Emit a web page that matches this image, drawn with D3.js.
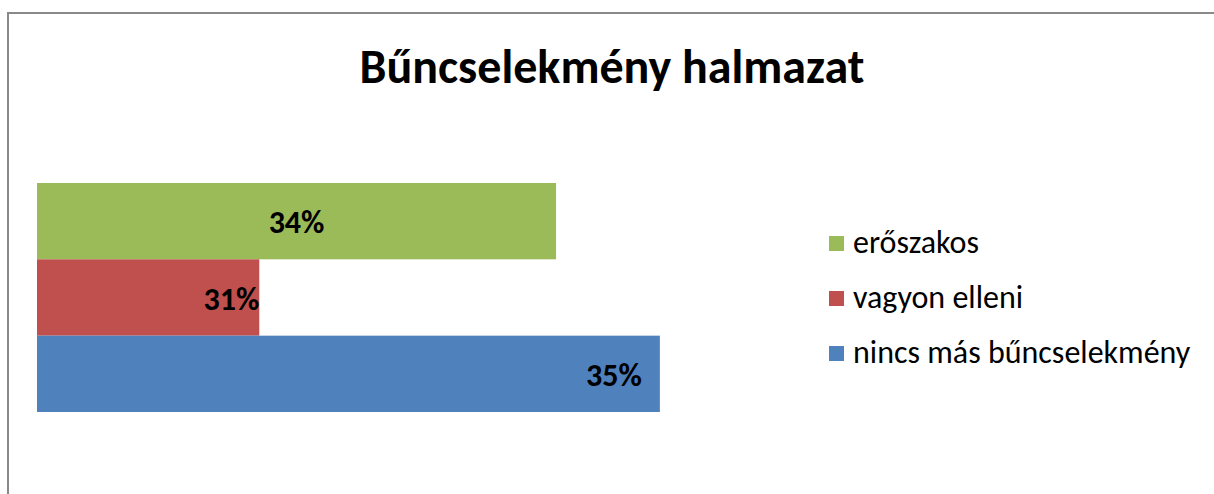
<!DOCTYPE html>
<html lang="hu">
<head>
<meta charset="UTF-8">
<title>Bűncselekmény halmazat</title>
<script src="https://d3js.org/d3.v7.min.js"></script>
<style>
  html, body { margin: 0; padding: 0; background: #fff; }
  svg { display: block; font-family: Carlito, Lato, "Open Sans", sans-serif; }
</style>
</head>
<body>
<svg width="1214" height="494"></svg>
<script>
// adatok (felülről lefelé)
const categories = ["erőszakos", "vagyon elleni", "nincs más bűncselekmény"];
const values = [0.3395, 0.3112, 0.3494];
const colors = ["#9bbb59", "#c0504d", "#4f81bd"];
const axisRange = [0.29, 0.36];

const width = 1214, height = 494;
const plot = { left: 37, right: 771, top: 183, bottom: 412 };

const svg = d3.select("svg");

// keret
svg.append("rect")
  .attr("x", 8).attr("y", 13)
  .attr("width", width + 20).attr("height", height + 20)
  .attr("fill", "none")
  .attr("stroke", "#898989")
  .attr("stroke-width", 2);

// cím
svg.append("text")
  .attr("x", 612).attr("y", 83)
  .attr("text-anchor", "middle")
  .style("font-size", "48px")
  .style("font-weight", "bold")
  .text("Bűncselekmény halmazat");

const x = d3.scaleLinear().domain(axisRange).range([plot.left, plot.right]);
const y = d3.scaleBand().domain(categories).range([plot.top, plot.bottom]).padding(0);

const data = categories.map((c, i) => ({ cat: c, v: values[i], color: colors[i] }));

svg.selectAll(".bar")
  .data(data)
  .enter().append("rect")
  .attr("class", "bar")
  .attr("x", x(axisRange[0]))
  .attr("y", d => y(d.cat))
  .attr("width", d => x(d.v) - x(axisRange[0]))
  .attr("height", y.bandwidth())
  .attr("fill", d => d.color);

// címkék: az eredeti kézzel mozgatott helyein
const labelPos = [
  d => ({ x: (x(axisRange[0]) + x(d.v)) / 2, anchor: "middle" }),
  d => ({ x: x(d.v), anchor: "end" }),
  d => ({ x: x(d.v) - 18, anchor: "end" })
];
const fmt = d3.format(".0%");
svg.selectAll(".lbl")
  .data(data)
  .enter().append("text")
  .attr("class", "lbl")
  .attr("x", (d, i) => labelPos[i](d).x)
  .attr("y", d => y(d.cat) + y.bandwidth() / 2 + 12)
  .attr("text-anchor", (d, i) => labelPos[i](d).anchor)
  .style("font-size", "32px")
  .style("font-weight", "bold")
  .text(d => fmt(d.v));

// jelmagyarázat
const legend = svg.append("g").attr("transform", "translate(829,243)");
const item = legend.selectAll("g")
  .data(data)
  .enter().append("g")
  .attr("transform", (d, i) => `translate(0,${i * 55})`);
item.append("rect")
  .attr("x", 0).attr("y", -7)
  .attr("width", 15).attr("height", 15)
  .attr("fill", d => d.color);
item.append("text")
  .attr("x", 24).attr("y", 10)
  .style("font-size", "32px")
  .text(d => d.cat);
</script>
</body>
</html>
